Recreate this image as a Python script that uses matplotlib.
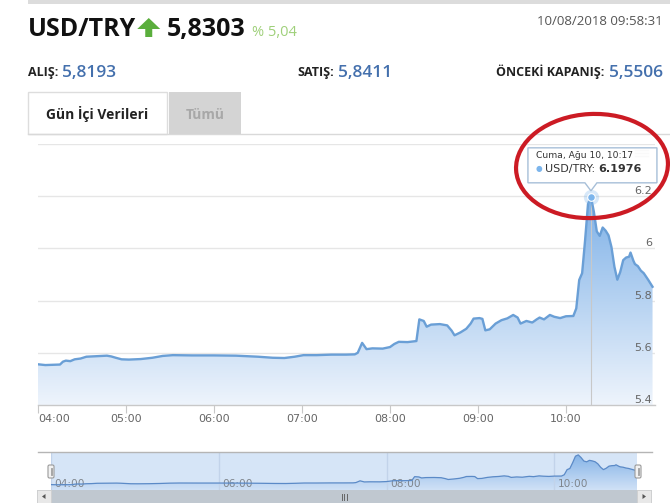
import numpy as np
import matplotlib
matplotlib.use("Agg")
import matplotlib.pyplot as plt
from matplotlib.patches import Polygon, Rectangle, Ellipse, FancyBboxPatch
from matplotlib.colors import LinearSegmentedColormap

W, H = 670, 503

# ---- quote header ----
symbol = "USD/TRY"
last_price = "5,8303"
change_pct = "% 5,04"
timestamp = "10/08/2018 09:58:31"
bid_label, bid_value = "ALIŞ:", "5,8193"
ask_label, ask_value = "SATIŞ:", "5,8411"
prev_label, prev_value = "ÖNCEKİ KAPANIŞ:", "5,5506"
tab_labels = ["Gün İçi Verileri", "Tümü"]

# ---- intraday USD/TRY rate ----
times = ["04:00", "04:05", "04:10", "04:15", "04:17", "04:19", "04:22", "04:25",
         "04:29", "04:33", "04:40", "04:47", "04:50", "04:53", "04:57", "05:02",
         "05:10", "05:18", "05:25", "05:32", "05:45", "06:00", "06:15", "06:30",
         "06:40", "06:48", "06:55", "07:01", "07:10", "07:20", "07:30", "07:36",
         "07:38", "07:41", "07:44", "07:48", "07:55", "08:00", "08:03", "08:06",
         "08:12", "08:18", "08:20", "08:23", "08:25", "08:28", "08:34", "08:39",
         "08:42", "08:44", "08:48", "08:52", "08:55", "08:57", "09:01", "09:03",
         "09:05", "09:08", "09:12", "09:16", "09:20", "09:24", "09:27", "09:29",
         "09:33", "09:37", "09:40", "09:42", "09:45", "09:49", "09:52", "09:56",
         "10:00", "10:05", "10:07", "10:09", "10:11", "10:13", "10:15", "10:17",
         "10:19", "10:21", "10:23", "10:25", "10:27", "10:29", "10:31", "10:33",
         "10:35", "10:37", "10:39", "10:41", "10:43", "10:44", "10:46", "10:47",
         "10:49", "10:51", "10:53", "10:56", "10:59"]
rates = [5.556, 5.553, 5.554, 5.555, 5.566, 5.570, 5.568, 5.575,
         5.578, 5.585, 5.587, 5.589, 5.586, 5.581, 5.575, 5.574,
         5.576, 5.581, 5.588, 5.591, 5.590, 5.590, 5.589, 5.585,
         5.581, 5.580, 5.585, 5.591, 5.591, 5.593, 5.593, 5.594,
         5.600, 5.638, 5.614, 5.617, 5.616, 5.622, 5.634, 5.642,
         5.641, 5.645, 5.728, 5.722, 5.700, 5.708, 5.710, 5.705,
         5.685, 5.667, 5.678, 5.692, 5.712, 5.731, 5.733, 5.730,
         5.686, 5.690, 5.712, 5.725, 5.732, 5.745, 5.735, 5.712,
         5.722, 5.716, 5.728, 5.735, 5.728, 5.745, 5.738, 5.733,
         5.740, 5.741, 5.770, 5.879, 5.905, 6.030, 6.170, 6.1976,
         6.140, 6.065, 6.048, 6.080, 6.068, 6.050, 6.005, 5.930,
         5.880, 5.910, 5.955, 5.965, 5.968, 5.984, 5.952, 5.940,
         5.932, 5.915, 5.905, 5.880, 5.853]

x_tick_labels = ["04:00", "05:00", "06:00", "07:00", "08:00", "09:00", "10:00"]
y_ticks = [5.4, 5.6, 5.8, 6.0, 6.2, 6.4]
y_tick_labels = ["5.4", "5.6", "5.8", "6", "6.2", ""]
nav_tick_labels = ["04:00", "06:00", "08:00", "10:00"]

hover_time = "10:17"
hover_title = "Cuma, Ağu 10, 10:17"
series_name = "USD/TRY"


def to_min(t):
    h, m = map(int, t.split(":"))
    return (h - 4) * 60 + m


x = np.array([to_min(t) for t in times], dtype=float)
y = np.array(rates)

UI = ["Open Sans", "DejaVu Sans"]
CH = ["DejaVu Sans"]

fig = plt.figure(figsize=(W / 100, H / 100), dpi=100)
fig.patch.set_facecolor("white")


def px_axes(left, top, width, height, **kw):
    return fig.add_axes([left / W, 1 - (top + height) / H, width / W, height / H], **kw)


def overlay(z):
    o = fig.add_axes([0, 0, 1, 1], zorder=z)
    o.set_xlim(0, W)
    o.set_ylim(H, 0)
    o.axis("off")
    o.patch.set_alpha(0)
    return o


bg = overlay(0)
fg = overlay(10)
renderer = fig.canvas.get_renderer()


def text_right_edge(t):
    bb = t.get_window_extent(renderer)
    return bg.transData.inverted().transform((bb.x1, bb.y0))[0]


def text_left_edge(t):
    bb = t.get_window_extent(renderer)
    return bg.transData.inverted().transform((bb.x0, bb.y0))[0]


# ---- header ----
bg.add_patch(Rectangle((28, 0), W - 28, 4, facecolor="#dcdcdc", edgecolor="none"))
t = bg.text(28, 36, symbol, fontsize=18, fontweight="bold", family=UI, color="#111111", va="baseline")
ax0 = text_right_edge(t) + 1
arrow = [(ax0, 29), (ax0 + 11.5, 18), (ax0 + 23, 29), (ax0 + 15, 29), (ax0 + 15, 37),
         (ax0 + 8, 37), (ax0 + 8, 29)]
bg.add_patch(Polygon(arrow, closed=True, facecolor="#5aae3c", edgecolor="none"))
t = bg.text(ax0 + 30, 36, last_price, fontsize=18, fontweight="bold", family=UI, color="#111111", va="baseline")
bg.text(text_right_edge(t) + 6, 36, change_pct, fontsize=10.5, family=UI, color="#9fd07a", va="baseline")
bg.text(663, 25, timestamp, fontsize=9.5, family=UI, color="#555555", ha="right", va="baseline")

blue_val = "#4470ad"
t = bg.text(28, 76, bid_label, fontsize=9, fontweight="bold", family=UI, color="#222222", va="baseline")
bg.text(text_right_edge(t) + 4, 77, bid_value, fontsize=12.5, fontweight="semibold", family=UI, color=blue_val, va="baseline")
t = bg.text(297, 76, ask_label, fontsize=9, fontweight="bold", family=UI, color="#222222", va="baseline")
bg.text(text_right_edge(t) + 4, 77, ask_value, fontsize=12.5, fontweight="semibold", family=UI, color=blue_val, va="baseline")
t = bg.text(663, 77, prev_value, fontsize=12.5, fontweight="semibold", family=UI, color=blue_val, ha="right", va="baseline")
bg.text(text_left_edge(t) - 4, 76, prev_label, fontsize=9, fontweight="bold", family=UI, color="#222222", ha="right", va="baseline")

# tabs
bg.plot([28, W], [134, 134], color="#d9d9d9", lw=1)
bg.add_patch(Rectangle((28, 92), 139, 42, facecolor="white", edgecolor="#dddddd", lw=1))
bg.add_patch(Rectangle((169, 92), 72, 42, facecolor="#d4d4d4", edgecolor="none"))
bg.text(97.5, 119, tab_labels[0], fontsize=10, fontweight="bold", family=UI, color="#222222", ha="center", va="baseline")
bg.text(205, 119, tab_labels[1], fontsize=10, fontweight="bold", family=UI, color="#a8a8a8", ha="center", va="baseline")

# ---- main chart ----
ax = px_axes(38, 144, 617, 261, zorder=2)
ax.patch.set_alpha(0)
ax.set_xlim(0, 617 * 60 / 88)
ax.set_ylim(5.4, 6.4)
ax.set_yticks(y_ticks)
ax.yaxis.grid(True, color="#e6e6e6", lw=1)
ax.tick_params(axis="y", length=0, labelleft=False)
for s in ["top", "left", "right"]:
    ax.spines[s].set_visible(False)
ax.spines["bottom"].set_color("#c8c8c8")
ax.spines["bottom"].set_linewidth(1)
ax.set_xticks([to_min(t) for t in x_tick_labels])
ax.set_xticklabels(x_tick_labels, fontsize=8, color="#666666", family=CH)
ax.tick_params(axis="x", length=6, width=0.8, color="#c8c8c8", pad=0.3)
ax.get_xticklabels()[0].set_horizontalalignment("left")
ax.set_axisbelow(True)

for v, lab in zip(y_ticks, y_tick_labels):
    ax.annotate(lab, xy=(1, v), xycoords=("axes fraction", "data"), xytext=(-2.2, 1.5),
                textcoords="offset points", ha="right", va="baseline", fontsize=8,
                color="#666666", family=CH)

area_cmap = LinearSegmentedColormap.from_list("area", ["#eef4fc", "#62a0e2"])
verts = [(x[0], 5.4)] + list(zip(x, y)) + [(x[-1], 5.4)]
clip = Polygon(verts, closed=True, facecolor="none", edgecolor="none")
ax.add_patch(clip)
grad = np.linspace(0, 1, 256).reshape(-1, 1)
im = ax.imshow(grad, extent=[x[0], x[-1], 5.4, 6.4], origin="lower", aspect="auto",
               cmap=area_cmap, zorder=1)
im.set_clip_path(clip)
ax.plot(x, y, color="#6a9fd6", lw=1.7, zorder=3, solid_joinstyle="round")

i_hov = times.index(hover_time)
hx, hy = x[i_hov], y[i_hov]
ax.vlines(hx, 5.4, hy, color="#c8c8c8", lw=0.8, zorder=2)
ax.plot(hx, hy, "o", ms=11, color="#7cb5ec", alpha=0.3, mec="none", zorder=4)
ax.plot(hx, hy, "o", ms=5.5, color="#7cb5ec", mec="white", mew=0.8, zorder=5)

# export menu glyph
for yy in (150, 153, 156):
    fg.plot([635, 648], [yy, yy], color="#c8c8c8", lw=1, zorder=1)

# tooltip
px, py = fg.transData.inverted().transform(ax.transData.transform((hx, hy)))
left, right, top, bottom = px - 63, px + 66, py - 49, py - 14
tip = [(left, top), (right, top), (right, bottom), (px + 6, bottom), (px, py - 6),
       (px - 6, bottom), (left, bottom)]
fg.add_patch(Polygon(tip, closed=True, facecolor="white", alpha=0.9, edgecolor="none", zorder=2))
fg.add_patch(Polygon(tip, closed=True, facecolor="none", edgecolor="#a7bfd8", lw=1, zorder=3))
fg.text(left + 8, top + 10, hover_title, fontsize=6.6, color="#333333", family=CH, va="baseline", zorder=4)
fg.text(left + 8, top + 23.5, "●", fontsize=5.5, color="#7cb5ec", family=CH, va="baseline", zorder=4)
t = fg.text(left + 17, top + 24, f"{series_name}: ", fontsize=8, color="#333333", family=CH,
            va="baseline", zorder=4)
bb = t.get_window_extent(renderer)
vx = fg.transData.inverted().transform((bb.x1, bb.y0))[0]
fg.text(vx, top + 24, f"{hy:.4f}", fontsize=8, fontweight="bold", color="#333333", family=CH,
        va="baseline", zorder=4)

# red highlight ring
fg.add_patch(Ellipse((592, 166), 152, 104, angle=-3, fill=False, edgecolor="#cc1b24", lw=3, zorder=6))

# ---- navigator ----
nav = px_axes(51, 452, 586, 38, zorder=2)
nav.set_xlim(0, x[-1])
nav.set_ylim(5.44, 6.26)
nav.set_facecolor("#d6e5f7")
for s in nav.spines.values():
    s.set_visible(False)
nav.set_yticks([])
nav.set_xticks([to_min(t) for t in nav_tick_labels])
nav.xaxis.grid(True, color="#c2d3ea", lw=1)
nav.tick_params(axis="x", length=0, labelbottom=False)
for lab in nav_tick_labels:
    nav.annotate(lab, xy=(to_min(lab), 0), xycoords=("data", "axes fraction"), xytext=(2.5, 2.2),
                 textcoords="offset points", fontsize=7.6, color="#7f858c", family=CH, va="baseline")
nav_cmap = LinearSegmentedColormap.from_list("nav", ["#d0e1f6", "#7fb0e6"])
nverts = [(x[0], 5.44)] + list(zip(x, y)) + [(x[-1], 5.44)]
nclip = Polygon(nverts, closed=True, facecolor="none", edgecolor="none")
nav.add_patch(nclip)
nim = nav.imshow(grad, extent=[x[0], x[-1], 5.44, 6.26], origin="lower", aspect="auto",
                 cmap=nav_cmap, zorder=1)
nim.set_clip_path(nclip)
nav.plot(x, y, color="#5b8ac7", lw=0.9, zorder=3)

fg.plot([38, 652], [452, 452], color="#b5b5b5", lw=1, zorder=1)
for hx0 in (48, 635):
    fg.add_patch(FancyBboxPatch((hx0, 465), 6, 13, boxstyle="round,pad=0,rounding_size=1.5",
                                facecolor="#f2f2f2", edgecolor="#9a9a9a", lw=0.8, zorder=2))
    fg.plot([hx0 + 2.5, hx0 + 2.5], [468, 475], color="#9a9a9a", lw=0.6, zorder=3)
    fg.plot([hx0 + 3.7, hx0 + 3.7], [468, 475], color="#9a9a9a", lw=0.6, zorder=3)

# scrollbar
fg.add_patch(Rectangle((37, 490), 615, 13, facecolor="#c0c8d0", edgecolor="none", zorder=1))
for bx in (37, 637):
    fg.add_patch(Rectangle((bx, 490), 14, 13, facecolor="#e8e8e8", edgecolor="#cfcfcf", lw=0.6, zorder=2))
fg.add_patch(Polygon([(45.5, 494), (45.5, 499), (42, 496.5)], closed=True, facecolor="#555555", edgecolor="none", zorder=3))
fg.add_patch(Polygon([(642.5, 494), (642.5, 499), (646, 496.5)], closed=True, facecolor="#555555", edgecolor="none", zorder=3))
for gx in (341.5, 344, 346.5):
    fg.plot([gx, gx], [494, 500], color="#666666", lw=0.7, zorder=3)

fig.savefig("out.png", dpi=100, facecolor="white")
